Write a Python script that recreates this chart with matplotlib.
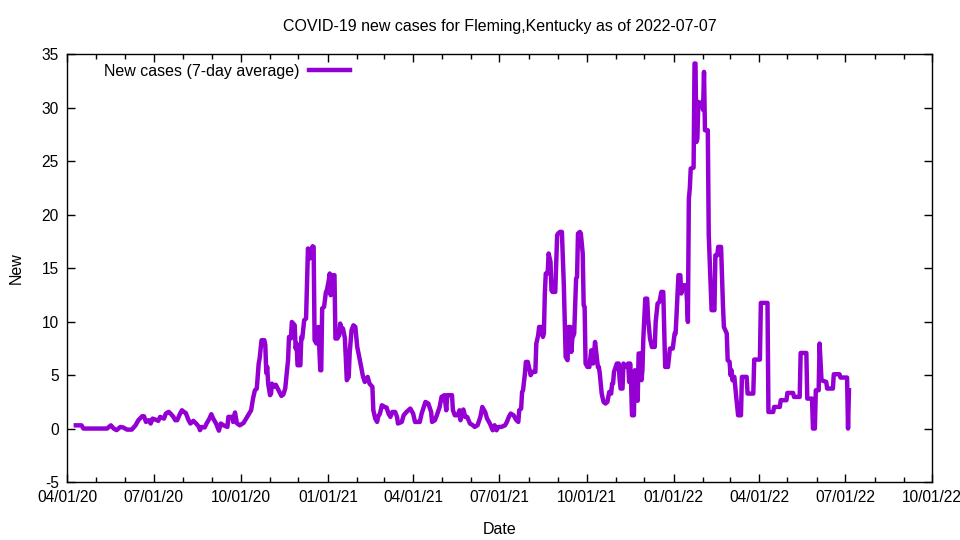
import numpy as np
import pandas as pd
import matplotlib
matplotlib.use("Agg")
import matplotlib.pyplot as plt
import matplotlib.dates as mdates

# values: day offset from 2020-04-01 and 7-day average
START = "2020-04-01"
day = [
    9, 15, 17, 38, 42, 46, 49, 52, 56, 59, 63, 68, 72, 75, 79, 81, 83, 86, 88, 90,
    93, 96, 98, 102, 104, 107, 109, 112, 114, 116, 119, 121, 123, 125, 128, 130, 133, 136, 139, 140,
    142, 145, 147, 150, 152, 154, 157, 160, 162, 165, 169, 170, 174, 175, 177, 179, 182, 186, 189, 191,
    194, 196, 198, 200, 202, 203, 205, 208, 209, 210, 211, 212, 214, 215, 216, 218, 220, 223, 226, 228,
    230, 233, 234, 236, 237, 240, 241, 242, 243, 246, 247, 248, 250, 252, 254, 256, 257, 259, 260, 261,
    263, 265, 267, 268, 269, 271, 273, 274, 276, 277, 278, 280, 282, 283, 285, 287, 288, 290, 291, 293,
    295, 297, 298, 300, 302, 304, 306, 309, 312, 314, 317, 319, 322, 323, 325, 327, 328, 330, 332, 335,
    337, 339, 341, 343, 346, 348, 349, 353, 355, 358, 362, 365, 367, 372, 374, 378, 381, 384, 385, 388,
    390, 393, 395, 398, 400, 401, 406, 407, 409, 412, 414, 415, 418, 420, 422, 425, 428, 430, 433, 436,
    438, 441, 443, 446, 449, 451, 453, 455, 458, 462, 464, 466, 468, 471, 473, 474, 476, 477, 479, 480,
    481, 483, 484, 486, 488, 489, 491, 494, 495, 497, 498, 500, 502, 503, 504, 505, 507, 508, 510, 511,
    512, 515, 517, 518, 520, 522, 524, 525, 526, 528, 529, 531, 532, 533, 535, 537, 538, 539, 541, 542,
    544, 545, 546, 547, 549, 551, 553, 554, 555, 557, 559, 560, 561, 562, 564, 566, 568, 570, 572, 574,
    575, 576, 577, 580, 582, 583, 584, 586, 587, 589, 592, 593, 594, 595, 596, 598, 599, 601, 602, 603,
    605, 606, 607, 608, 610, 612, 613, 615, 617, 620, 621, 623, 625, 627, 629, 631, 634, 636, 639, 641,
    642, 643, 645, 647, 648, 650, 653, 654, 655, 656, 657, 658, 661, 662, 663, 664, 665, 666, 668, 670,
    671, 672, 673, 676, 677, 680, 683, 684, 686, 687, 690, 691, 692, 693, 696, 697, 699, 700, 701, 702,
    704, 706, 708, 711, 712, 717, 718, 724, 725, 731, 732, 739, 740, 745, 746, 752, 753, 759, 760, 766,
    767, 773, 774, 780, 781, 786, 787, 789, 790, 793, 794, 796, 801, 802, 808, 809, 815, 816, 823, 824,
    825,
]
new_cases = [
    0.3, 0.3, 0.0, 0.0, 0.0, 0.3, 0.0, -0.15, 0.15, 0.1, -0.1, -0.1, 0.3, 0.78, 1.15, 1.15, 0.62, 0.78, 0.47, 0.93,
    0.84, 0.72, 1.09, 0.93, 1.4, 1.56, 1.4, 1.09, 0.78, 0.78, 1.4, 1.71, 1.56, 1.46, 0.78, 0.47, 0.72, 0.47, 0.15, -0.15,
    0.15, 0.1, 0.47, 0.93, 1.34, 0.93, 0.47, -0.2, 0.47, 0.3, 0.15, 1.09, 1.09, 0.62, 1.5, 0.5, 0.3, 0.52, 0.96, 1.24,
    1.71, 2.8, 3.58, 3.74, 6.08, 6.55, 8.26, 8.26, 7.8, 5.2, 5.76, 4.2, 3.12, 3.27, 4.2, 3.9, 4.1, 3.58, 3.05, 3.18,
    3.74, 6.4, 8.57, 8.42, 9.97, 9.66, 7.48, 7.95, 5.92, 5.92, 8.57, 8.42, 10.13, 10.29, 16.84, 15.9, 16.68, 17.05, 16.99, 8.26,
    7.95, 9.5, 5.45, 5.45, 11.23, 11.38, 12.78, 12.94, 13.87, 14.5, 12.47, 14.34, 14.34, 8.42, 8.42, 8.73, 9.82, 9.2, 9.35, 8.42,
    4.52, 4.83, 7.02, 9.2, 9.66, 9.5, 7.63, 6.3, 4.9, 4.36, 4.83, 4.2, 3.9, 1.71, 0.94, 0.62, 1.09, 1.4, 2.18, 2.02,
    1.96, 1.4, 1.09, 1.55, 1.55, 1.09, 0.47, 0.62, 1.24, 1.55, 1.87, 1.4, 0.62, 0.62, 1.4, 2.49, 2.34, 1.55, 0.62, 0.78,
    1.24, 2.02, 2.96, 3.12, 1.71, 3.12, 3.12, 1.71, 1.24, 1.24, 1.71, 0.78, 1.78, 1.09, 1.09, 0.47, 0.31, 0.15, 0.31, 1.09,
    2.02, 1.55, 0.94, 0.47, -0.16, 0.31, -0.16, 0.15, 0.15, 0.3, 0.62, 1.09, 1.4, 1.24, 0.94, 0.78, 0.62, 1.71, 1.87, 3.42,
    3.58, 5.14, 6.23, 6.23, 5.45, 4.99, 5.3, 5.3, 7.95, 8.73, 9.5, 9.5, 8.57, 8.89, 12.63, 14.5, 14.5, 16.37, 15.58, 12.94,
    12.78, 12.78, 18.08, 18.24, 18.39, 18.39, 13.56, 10.13, 6.7, 6.39, 9.5, 9.5, 7.17, 8.42, 8.89, 14.03, 14.18, 18.24, 18.39, 18.24,
    16.37, 11.53, 11.38, 6.08, 5.76, 5.76, 7.32, 6.23, 6.08, 8.1, 6.5, 5.76, 5.76, 5.14, 3.27, 2.49, 2.34, 2.49, 3.42, 3.27,
    4.2, 4.2, 5.3, 6.08, 6.08, 4.5, 3.74, 3.74, 6.08, 5.76, 6.08, 4.36, 6.08, 4.4, 1.24, 1.24, 5.45, 5.0, 2.6, 7.02,
    7.02, 4.52, 5.45, 8.5, 12.15, 12.15, 10.29, 8.42, 7.63, 7.63, 9.97, 11.69, 11.85, 12.78, 12.78, 5.76, 5.76, 7.48, 7.48, 8.89,
    8.89, 10.6, 14.34, 14.34, 12.63, 13.4, 13.4, 12.0, 9.97, 21.5, 22.45, 24.32, 24.4, 34.14, 34.14, 26.8, 27.1, 30.55, 30.2, 30.55,
    29.8, 33.36, 27.9, 27.9, 18.1, 11.07, 11.07, 16.21, 16.21, 16.99, 16.99, 14.34, 11.5, 9.5, 8.89, 6.39, 6.23, 4.99, 5.45, 4.52,
    4.83, 2.96, 1.24, 1.24, 4.83, 4.83, 3.27, 3.27, 6.45, 6.45, 11.75, 11.75, 1.55, 1.55, 2.02, 2.02, 2.65, 2.65, 3.33, 3.33,
    2.96, 2.96, 7.07, 7.07, 2.8, 2.8, 0.0, 0.0, 3.58, 3.58, 7.95, 4.52, 4.36, 3.74, 3.74, 5.08, 5.08, 4.77, 4.77, 0.0,
    3.58,
]

TITLE = "COVID-19 new cases for Fleming,Kentucky as of 2022-07-07"
LABEL = "New cases (7-day average)"
X_RANGE = ("2020-04-01", "2022-10-01")
Y_TICKS = list(range(-5, 36, 5))

plt.rcParams["font.family"] = ["Liberation Sans", "DejaVu Sans"]
plt.rcParams["font.size"] = 11.5
plt.rcParams["axes.unicode_minus"] = False   # gnuplot prints a plain hyphen

dates = pd.Timestamp(START) + pd.to_timedelta(day, unit="D")

fig = plt.figure(figsize=(9.6, 5.4), dpi=100)
ax = fig.add_axes([0.0701, 0.1074, 0.9011, 0.7920])

ax.plot(dates, new_cases, color="#9400d3", lw=3.2, label=LABEL)

ax.set_xlim(pd.Timestamp(X_RANGE[0]), pd.Timestamp(X_RANGE[1]))
ax.set_ylim(-5, 35)
ax.set_yticks(Y_TICKS)

ax.xaxis.set_major_locator(mdates.MonthLocator(bymonth=[1, 4, 7, 10]))
ax.xaxis.set_minor_locator(mdates.MonthLocator())
ax.xaxis.set_major_formatter(mdates.DateFormatter("%m/%d/%y"))

ax.tick_params(which="both", direction="in", top=True, right=True, width=1, labelsize=11.2)
ax.tick_params(which="major", length=6, pad=6)
ax.tick_params(which="minor", length=3.5)
for s in ax.spines.values():
    s.set_linewidth(1)

ax.set_xlabel("Date", labelpad=12)
ax.set_ylabel("New", labelpad=13)
ax.set_title(TITLE, fontsize=11.5, pad=17)

ax.legend(loc="upper left", frameon=False, markerfirst=False, handlelength=2.6,
          handletextpad=0.6, borderaxespad=0.2, bbox_to_anchor=(0.031, 1.0),
          fontsize=11.5)

fig.savefig("out.png", dpi=100)
